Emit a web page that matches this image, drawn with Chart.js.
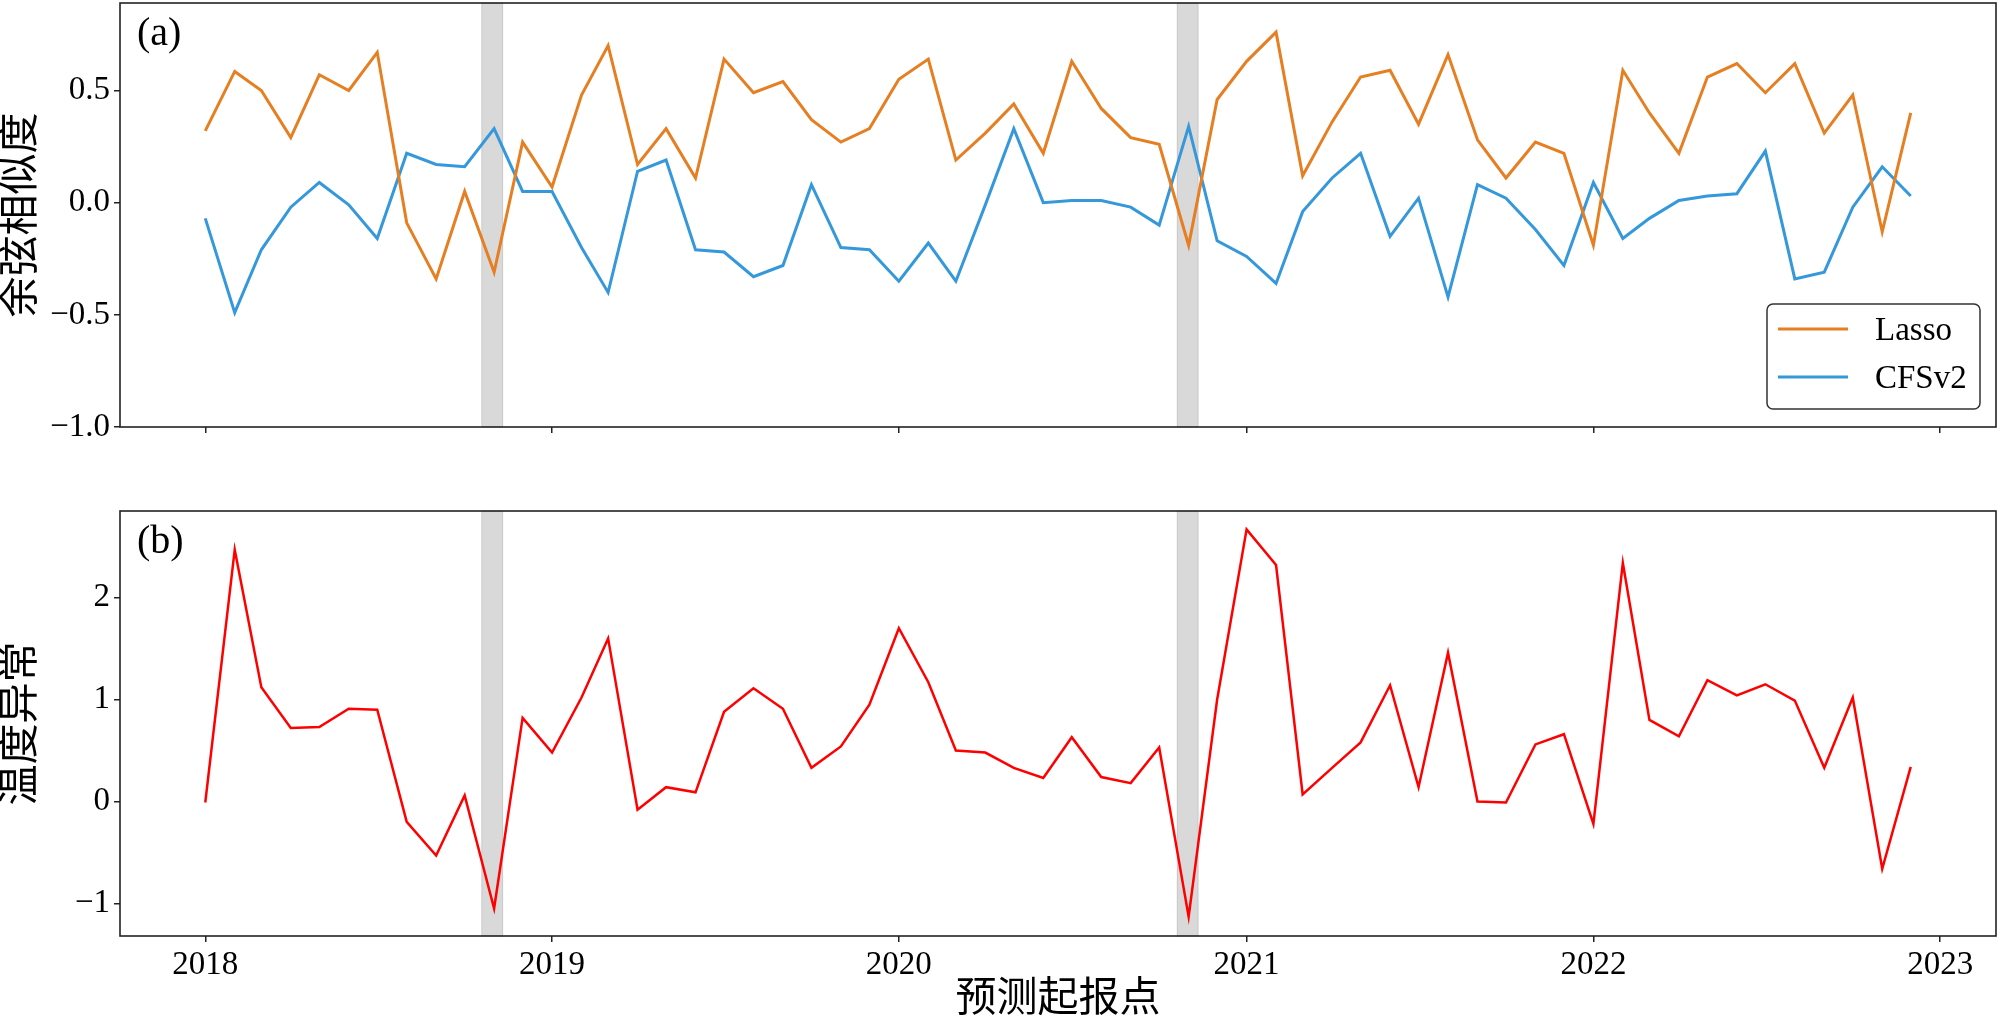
<!DOCTYPE html>
<html>
<head>
<meta charset="utf-8">
<script src="https://cdn.jsdelivr.net/npm/chart.js@4/dist/chart.umd.min.js"></script>
<style>
html, body { margin: 0; padding: 0; background: #fff; }
#wrap { position: relative; width: 2000px; height: 1024px; }
#top { position: absolute; left: 0; top: 0; }
#bottom { position: absolute; left: 0; top: 500px; }
</style>
</head>
<body>
<div id="wrap">
	<canvas id="top" width="2000" height="440"></canvas>
	<canvas id="bottom" width="2000" height="524"></canvas>
</div>
<script>
var months = [
	'2018-01', '2018-02', '2018-03', '2018-04', '2018-05', '2018-06', '2018-07', '2018-08', '2018-09', '2018-10', '2018-11', '2018-12',
	'2019-01', '2019-02', '2019-03', '2019-04', '2019-05', '2019-06', '2019-07', '2019-08', '2019-09', '2019-10', '2019-11', '2019-12',
	'2020-01', '2020-02', '2020-03', '2020-04', '2020-05', '2020-06', '2020-07', '2020-08', '2020-09', '2020-10', '2020-11', '2020-12',
	'2021-01', '2021-02', '2021-03', '2021-04', '2021-05', '2021-06', '2021-07', '2021-08', '2021-09', '2021-10', '2021-11', '2021-12',
	'2022-01', '2022-02', '2022-03', '2022-04', '2022-05', '2022-06', '2022-07', '2022-08', '2022-09', '2022-10', '2022-11', '2022-12'
];

var lasso = [
	0.32, 0.585, 0.50, 0.29, 0.57, 0.50, 0.67, -0.09, -0.34, 0.05, -0.31, 0.27,
	0.07, 0.48, 0.70, 0.17, 0.33, 0.11, 0.64, 0.49, 0.54, 0.37, 0.27, 0.33,
	0.55, 0.64, 0.19, 0.31, 0.44, 0.22, 0.63, 0.42, 0.29, 0.26, -0.19, 0.46,
	0.63, 0.76, 0.12, 0.36, 0.56, 0.59, 0.35, 0.66, 0.28, 0.11, 0.27, 0.22,
	-0.19, 0.59, 0.40, 0.22, 0.56, 0.62, 0.49, 0.62, 0.31, 0.48, -0.13, 0.40
];

var cfsv2 = [
	-0.07, -0.49, -0.21, -0.02, 0.09, -0.01, -0.16, 0.22, 0.17, 0.16, 0.33, 0.05,
	0.05, -0.20, -0.40, 0.14, 0.19, -0.21, -0.22, -0.33, -0.28, 0.08, -0.20, -0.21,
	-0.35, -0.18, -0.35, -0.01, 0.33, 0.00, 0.01, 0.01, -0.02, -0.10, 0.34, -0.17,
	-0.24, -0.36, -0.04, 0.11, 0.22, -0.15, 0.02, -0.42, 0.08, 0.02, -0.12, -0.28,
	0.09, -0.16, -0.07, 0.01, 0.03, 0.04, 0.23, -0.34, -0.31, -0.02, 0.16, 0.03
];

var anomaly = [
	-0.01, 2.47, 1.12, 0.72, 0.73, 0.91, 0.90, -0.20, -0.53, 0.06, -1.05, 0.82,
	0.48, 1.02, 1.60, -0.08, 0.14, 0.09, 0.88, 1.11, 0.91, 0.33, 0.54, 0.95,
	1.70, 1.17, 0.50, 0.48, 0.33, 0.23, 0.63, 0.24, 0.18, 0.53, -1.13, 1.00,
	2.67, 2.32, 0.07, 0.33, 0.58, 1.14, 0.14, 1.46, 0.00, -0.01, 0.56, 0.66,
	-0.22, 2.34, 0.80, 0.64, 1.19, 1.04, 1.15, 0.99, 0.33, 1.02, -0.66, 0.34
];

// shaded periods
var bands = [['2018-10-19', '2018-11-10'], ['2020-10-20', '2020-11-11']];

var yearTicks = [2018, 2019, 2020, 2021, 2022, 2023];
var cosTicks = [-1.0, -0.5, 0.0, 0.5];
var anomTicks = [-1, 0, 1, 2];

var serif = "'Liberation Serif', 'Noto Sans CJK SC', serif";

function toTime(s) {
	var p = s.split('-');
	return Date.UTC(+p[0], +p[1] - 1, p[2] ? +p[2] : 1);
}

function minus(str) {
	return str.replace('-', '\u2212');
}

function series(values) {
	return values.map(function(v, i) {
		return { x: toTime(months[i]), y: v };
	});
}

var first = toTime(months[0]),
	last = toTime(months[months.length - 1]),
	pad = (last - first) * 0.05;

var panelPlugin = {
	id: 'panel',
	beforeDatasetsDraw: function(chart) {
		var ctx = chart.ctx, area = chart.chartArea, xs = chart.scales.x;
		ctx.save();
		ctx.fillStyle = 'rgba(128,128,128,0.3)';
		ctx.strokeStyle = 'rgba(128,128,128,0.3)';
		ctx.lineWidth = 1;
		bands.forEach(function(b) {
			var x0 = xs.getPixelForValue(toTime(b[0])),
				x1 = xs.getPixelForValue(toTime(b[1]));
			ctx.fillRect(x0, area.top, x1 - x0, area.bottom - area.top);
			ctx.strokeRect(x0, area.top, x1 - x0, area.bottom - area.top);
		});
		ctx.restore();
	},
	afterDraw: function(chart, args, opts) {
		var ctx = chart.ctx, area = chart.chartArea;
		ctx.save();
		ctx.strokeStyle = '#222';
		ctx.lineWidth = 1.6;
		ctx.strokeRect(area.left, area.top, area.right - area.left, area.bottom - area.top);

		ctx.fillStyle = '#000';
		ctx.font = '40px ' + serif;
		ctx.textBaseline = 'middle';
		ctx.textAlign = 'left';
		ctx.fillText(opts.label, area.left + 17, area.top + 31);

		if (opts.legend) {
			var w = 213, h = 105,
				bx = area.right - 16 - w,
				by = area.bottom - 18 - h;
			ctx.beginPath();
			if (ctx.roundRect) ctx.roundRect(bx, by, w, h, 6);
			else ctx.rect(bx, by, w, h);
			ctx.fillStyle = 'rgba(255,255,255,0.9)';
			ctx.fill();
			ctx.strokeStyle = '#333';
			ctx.lineWidth = 1.5;
			ctx.stroke();

			ctx.font = '33px ' + serif;
			chart.data.datasets.forEach(function(ds, i) {
				var ry = by + 25 + i * 48;
				ctx.strokeStyle = ds.borderColor;
				ctx.lineWidth = ds.borderWidth;
				ctx.beginPath();
				ctx.moveTo(bx + 11, ry);
				ctx.lineTo(bx + 81, ry);
				ctx.stroke();
				ctx.fillStyle = '#000';
				ctx.fillText(ds.label, bx + 108, ry + 2);
			});
		}
		ctx.restore();
	}
};

function gridOpts() {
	return { drawOnChartArea: false, drawTicks: true, tickLength: 6, color: '#222', lineWidth: 1.5 };
}

function noPadding(s) {
	s.paddingTop = 0;
	s.paddingBottom = 0;
	s.paddingLeft = 0;
	s.paddingRight = 0;
}

function xAxis(showLabels, height, title) {
	return {
		type: 'linear',
		min: first - pad,
		max: last + pad,
		afterBuildTicks: function(s) {
			s.ticks = yearTicks.map(function(y) { return { value: Date.UTC(y, 0, 1) }; });
		},
		afterFit: function(s) {
			s.height = height;
			noPadding(s);
		},
		grid: gridOpts(),
		border: { display: false },
		ticks: {
			autoSkip: false,
			maxRotation: 0,
			padding: 4,
			color: '#000',
			font: { family: serif, size: 33 },
			callback: function(v) {
				return showLabels ? String(new Date(v).getUTCFullYear()) : '';
			}
		},
		title: {
			display: !!title,
			text: title || '',
			color: '#000',
			font: { family: serif, size: 41, lineHeight: 1.1 },
			padding: { top: 0, bottom: 1 }
		}
	};
}

function yAxis(min, max, ticks, digits, title) {
	return {
		min: min,
		max: max,
		afterBuildTicks: function(s) {
			s.ticks = ticks.map(function(v) { return { value: v }; });
		},
		afterFit: function(s) {
			s.width = 120;
			noPadding(s);
		},
		grid: gridOpts(),
		border: { display: false },
		ticks: {
			padding: 4,
			color: '#000',
			font: { family: serif, size: 33 },
			callback: function(v) { return minus(Number(v).toFixed(digits)); }
		},
		title: {
			display: true,
			text: title,
			color: '#000',
			font: { family: serif, size: 41, lineHeight: 1.1 },
			padding: 0
		}
	};
}

function baseOptions(padding, xa, ya, panel) {
	return {
		responsive: false,
		devicePixelRatio: 1,
		animation: false,
		layout: { padding: padding },
		elements: { point: { radius: 0 }, line: { tension: 0 } },
		plugins: { legend: { display: false }, tooltip: { enabled: false }, panel: panel },
		scales: { x: xa, y: ya }
	};
}

new Chart(document.getElementById('top').getContext('2d'), {
	type: 'line',
	data: {
		datasets: [{
			label: 'Lasso',
			data: series(lasso),
			borderColor: '#e67e22',
			borderWidth: 3
		}, {
			label: 'CFSv2',
			data: series(cfsv2),
			borderColor: '#3498db',
			borderWidth: 3
		}]
	},
	options: baseOptions({ top: 3, right: 4, left: 0, bottom: 0 },
		xAxis(false, 13),
		yAxis(-1.0, 0.89, cosTicks, 1, '余弦相似度'),
		{ label: '(a)', legend: true }),
	plugins: [panelPlugin]
});

new Chart(document.getElementById('bottom').getContext('2d'), {
	type: 'line',
	data: {
		datasets: [{
			label: '温度异常',
			data: series(anomaly),
			borderColor: '#ff0000',
			borderWidth: 2.5
		}]
	},
	options: baseOptions({ top: 11, right: 4, left: 0, bottom: 0 },
		xAxis(true, 88, '预测起报点'),
		yAxis(-1.32, 2.85, anomTicks, 0, '温度异常'),
		{ label: '(b)', legend: false }),
	plugins: [panelPlugin]
});
</script>
</body>
</html>
